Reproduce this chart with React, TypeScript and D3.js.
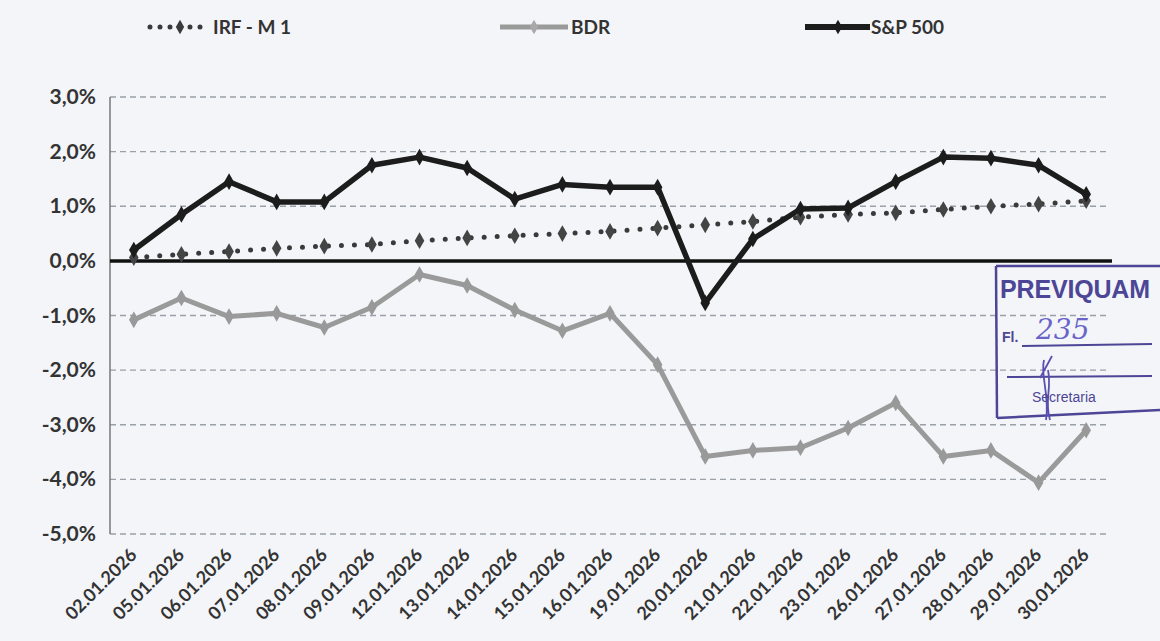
import React from "react";
import * as d3 from "d3";

const dates = ["02.01.2026","05.01.2026","06.01.2026","07.01.2026","08.01.2026","09.01.2026","12.01.2026","13.01.2026","14.01.2026","15.01.2026","16.01.2026","19.01.2026","20.01.2026","21.01.2026","22.01.2026","23.01.2026","26.01.2026","27.01.2026","28.01.2026","29.01.2026","30.01.2026"];
const irf = [0.06, 0.12, 0.17, 0.23, 0.27, 0.3, 0.37, 0.42, 0.46, 0.5, 0.54, 0.6, 0.66, 0.72, 0.8, 0.85, 0.88, 0.94, 1.0, 1.04, 1.1];
const bdr = [-1.08, -0.68, -1.02, -0.96, -1.22, -0.85, -0.25, -0.45, -0.9, -1.28, -0.96, -1.9, -3.58, -3.47, -3.42, -3.06, -2.6, -3.58, -3.47, -4.06, -3.1];
const sp500 = [0.2, 0.85, 1.45, 1.08, 1.08, 1.75, 1.9, 1.7, 1.13, 1.4, 1.35, 1.35, -0.77, 0.4, 0.95, 0.97, 1.45, 1.9, 1.88, 1.75, 1.22];
const yTicks = [3, 2, 1, 0, -1, -2, -3, -4, -5];
const seriesNames = ["IRF - M 1", "BDR", "S&P 500"];

const W = 1160, H = 641;
const left = 110, right = 1110, top = 97, bottom = 534;

export default function App() {
  const x = d3.scaleBand<string>().domain(dates).range([left, right]);
  const xc = (d: string) => (x(d) as number) + x.bandwidth() / 2;
  const y = d3.scaleLinear().domain([-5, 3]).range([bottom, top]);
  const line = d3.line<number>().x((_, i) => xc(dates[i])).y(v => y(v));
  const diamond = d3.symbol(d3.symbolDiamond, 80)();
  const diamondSmall = d3.symbol(d3.symbolDiamond, 60)();
  const fmt = (v: number) => v.toFixed(1).replace(".", ",") + "%";
  const font = "Lato, 'Open Sans', sans-serif";

  return (
    <svg width={W} height={H} style={{ position: "fixed", left: 0, top: 0 }} fontFamily={font}>
      <rect x={0} y={0} width={W} height={H} fill="#f3f5f8" />
      {/* legend */}
      <g>
        <line x1={150} y1={27} x2={205} y2={27} stroke="#3a3a3a" strokeWidth={5} strokeDasharray="0 10" strokeLinecap="round" />
        <path d={diamondSmall} transform="translate(180,27)" fill="#3a3a3a" />
        <text x={213} y={34} fontSize={19} fontWeight={700} fill="#333">{seriesNames[0]}</text>
        <line x1={500} y1={27} x2={568} y2={27} stroke="#9a9a9a" strokeWidth={5} />
        <path d={diamondSmall} transform="translate(534,27)" fill="#a8a8a8" />
        <text x={571} y={34} fontSize={19} fontWeight={700} fill="#333">{seriesNames[1]}</text>
        <line x1={805} y1={27} x2={870} y2={27} stroke="#1c1c1c" strokeWidth={6} />
        <path d={diamondSmall} transform="translate(838,27)" fill="#1c1c1c" />
        <text x={871} y={34} fontSize={19} fontWeight={700} fill="#333">{seriesNames[2]}</text>
      </g>
      {/* grid */}
      {yTicks.map(t => (
        <g key={t}>
          {t !== 0 && <line x1={left} x2={right} y1={y(t)} y2={y(t)} stroke="#9aa0a8" strokeWidth={1.3} strokeDasharray="6 4" />}
          <text x={96} y={y(t) + 7} textAnchor="end" fontSize={21} fontWeight={700} fill="#333">{fmt(t)}</text>
        </g>
      ))}
      <line x1={left} x2={left} y1={top} y2={bottom} stroke="#777" strokeWidth={1.5} />
      {dates.map(d => (
        <text key={d} transform={`translate(${xc(d) + 4},${bottom + 22}) rotate(-45)`} textAnchor="end" fontSize={18} fontWeight={700} fill="#333">{d}</text>
      ))}
      {/* zero line */}
      <line x1={left} x2={1112} y1={y(0)} y2={y(0)} stroke="#111" strokeWidth={3.5} />
      {/* BDR */}
      <path d={line(bdr) || ""} fill="none" stroke="#9a9a9a" strokeWidth={5} strokeLinejoin="round" />
      {bdr.map((v, i) => <path key={i} d={diamond} transform={`translate(${xc(dates[i])},${y(v)})`} fill="#999" />)}
      {/* IRF */}
      <path d={line(irf) || ""} fill="none" stroke="#3a3a3a" strokeWidth={5} strokeDasharray="0 13" strokeLinecap="round" />
      {irf.map((v, i) => <path key={i} d={diamond} transform={`translate(${xc(dates[i])},${y(v)})`} fill="#444" />)}
      {/* S&P */}
      <path d={line(sp500) || ""} fill="none" stroke="#1c1c1c" strokeWidth={5.5} strokeLinejoin="round" />
      {sp500.map((v, i) => <path key={i} d={diamond} transform={`translate(${xc(dates[i])},${y(v)})`} fill="#1c1c1c" />)}
      {/* stamp */}
      <g stroke="#4d4596" fill="none">
        <path d="M996,266 L1160,266" strokeWidth={2.5} />
        <path d="M996,266 L997,418" strokeWidth={2.5} />
        <path d="M997,418 L1160,410" strokeWidth={2.5} />
        <path d="M1022,346 L1152,344" strokeWidth={2} />
        <path d="M1007,377 L1152,376" strokeWidth={2} />
        <path d="M1044,360 C1040,375 1050,395 1046,420 M1040,378 L1052,356 M1048,370 C1052,390 1044,400 1050,420" strokeWidth={1.8} stroke="#5a50b0" />
      </g>
      <text x={1000} y={298} fontSize={25} fontWeight={700} fill="#4d4596" fontFamily="'Liberation Sans Narrow', 'Liberation Sans', sans-serif" textLength={150}>PREVIQUAM</text>
      <text x={1002} y={342} fontSize={14} fontWeight={700} fill="#4d4596" fontFamily="'Liberation Sans', sans-serif">Fl.</text>
      <text x={1036} y={339} fontSize={28} fill="#6a64c8" fontStyle="italic" fontFamily="'DejaVu Serif', serif">235</text>
      <text x={1032} y={402} fontSize={14} fill="#4d4596" fontFamily="'Liberation Sans', sans-serif">Secretaria</text>
    </svg>
  );
}
